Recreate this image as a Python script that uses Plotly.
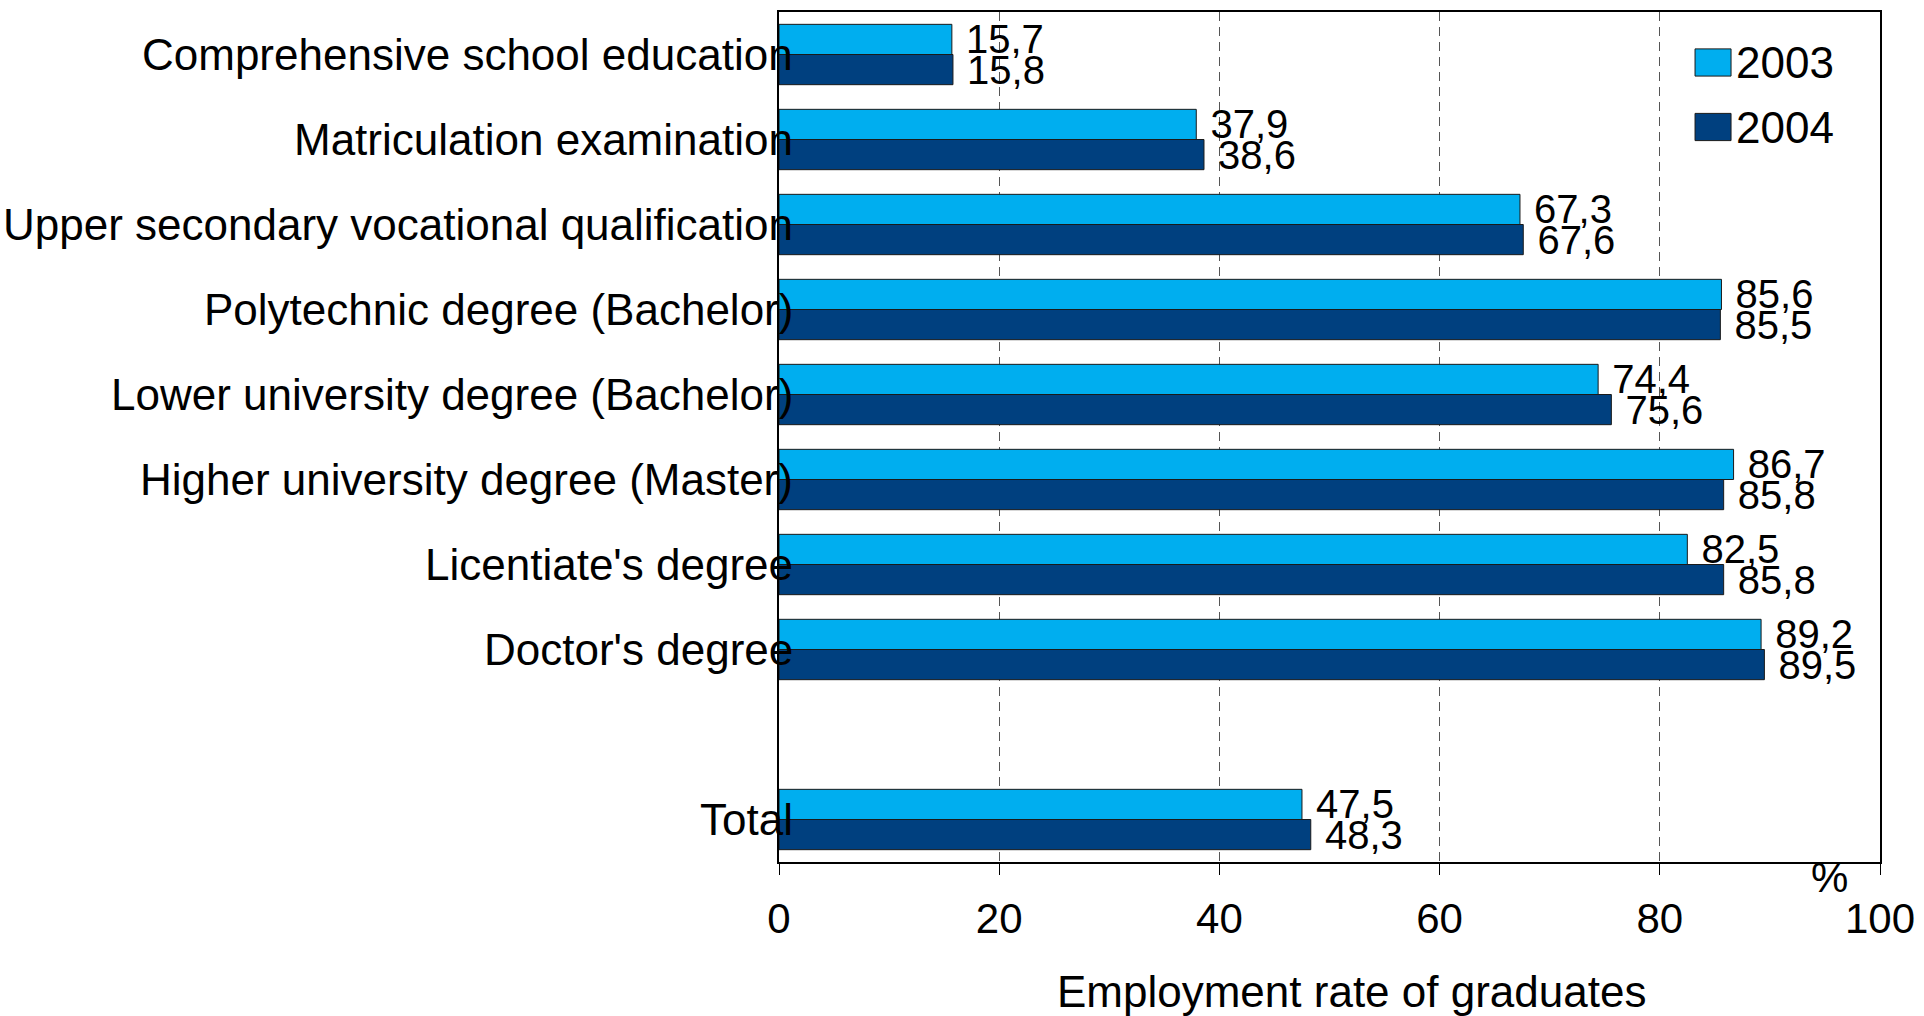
import plotly.graph_objects as go

categories = [
    "Comprehensive school education",
    "Matriculation examination",
    "Upper secondary vocational qualification",
    "Polytechnic degree (Bachelor)",
    "Lower university degree (Bachelor)",
    "Higher university degree (Master)",
    "Licentiate's degree",
    "Doctor's degree",
    " ",
    "Total",
]
values_2003 = [15.7, 37.9, 67.3, 85.6, 74.4, 86.7, 82.5, 89.2, None, 47.5]
values_2004 = [15.8, 38.6, 67.6, 85.5, 75.6, 85.8, 85.8, 89.5, None, 48.3]
series_names = ["2003", "2004"]
series_colors = ["#00AEEF", "#00407F"]
x_ticks = [0, 20, 40, 60, 80, 100]
x_tick_labels = ["0", "20", "40", "60", "80", "100"]

FONT = "Liberation Sans, Arial, sans-serif"

fig = go.Figure()
for name, vals, col in zip(series_names, [values_2003, values_2004], series_colors):
    fig.add_trace(go.Bar(
        name=name,
        y=categories,
        x=vals,
        orientation="h",
        marker=dict(color=col, line=dict(color="#1a1a1a", width=1)),
        texttemplate=" %{x:.1f}",
        textposition="outside",
        textfont=dict(family=FONT, size=40, color="black"),
        cliponaxis=False,
        constraintext="none",
        showlegend=False,
    ))

# category labels (right aligned, slightly overlapping the axis as in the original)
for c in categories:
    if c.strip():
        fig.add_annotation(
            x=0, xref="paper", y=c, yref="y",
            text=c, showarrow=False, xanchor="right", yanchor="middle",
            xshift=16, font=dict(family=FONT, size=44, color="black"),
        )

# legend (drawn manually to get large swatches)
legend_y = [0.9406, 0.8647]
for name, col, ly in zip(series_names, series_colors, legend_y):
    fig.add_shape(type="rect", xref="paper", yref="paper",
                  x0=0.8320, x1=0.8647, y0=ly - 0.016, y1=ly + 0.016,
                  fillcolor=col, line=dict(color="#1a1a1a", width=1))
    fig.add_annotation(x=0.8675, xref="paper", y=ly, yref="paper", text=name,
                       showarrow=False, xanchor="left", yanchor="middle",
                       font=dict(family=FONT, size=44, color="black"))

fig.add_annotation(x=0.52, xref="paper", y=-0.152, yref="paper",
                   text="Employment rate of graduates", showarrow=False,
                   xanchor="center", yanchor="middle",
                   font=dict(family=FONT, size=44, color="black"))
fig.add_annotation(x=0.954, xref="paper", y=-0.018, yref="paper",
                   text="%", showarrow=False, xanchor="center", yanchor="middle",
                   font=dict(family=FONT, size=42, color="black"))

fig.update_layout(
    width=1924, height=1016,
    margin=dict(l=779, r=44, t=12, b=154, autoexpand=False),
    paper_bgcolor="white", plot_bgcolor="white",
    barmode="group", bargap=0.29, bargroupgap=0,
    separators=", ",
    font=dict(family=FONT, size=42, color="black"),
    showlegend=False,
)
fig.update_xaxes(
    range=[0, 100], tickvals=x_ticks, ticktext=x_tick_labels,
    showgrid=True, gridcolor="#555555", griddash="9px,6px", gridwidth=1,
    showline=True, linecolor="black", linewidth=2, mirror=True,
    ticks="outside", ticklen=11, tickcolor="black", tickwidth=1,
    tickfont=dict(family=FONT, size=42), ticklabelstandoff=8,
    ticklabeloverflow="allow", automargin=False,
    zeroline=False,
)
fig.update_yaxes(
    type="category", categoryorder="array", categoryarray=categories,
    range=[len(categories) - 0.5, -0.5],
    showticklabels=False, ticks="", showgrid=False, automargin=False,
    showline=True, linecolor="black", linewidth=2, mirror=True,
)

fig.write_html(
    "out.html",
    config={"displayModeBar": False},
    post_script="document.body.style.margin='0px';document.body.style.overflow='hidden';",
)
